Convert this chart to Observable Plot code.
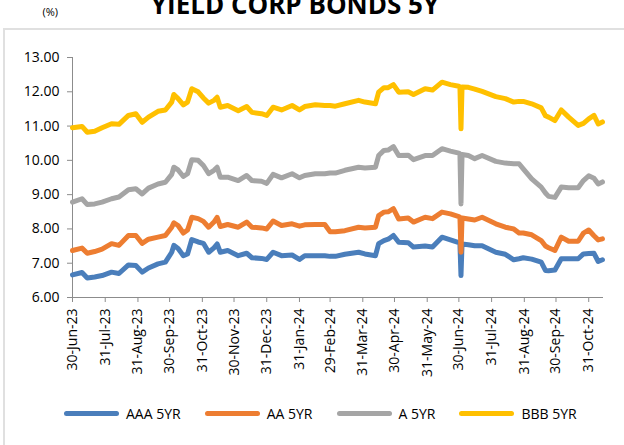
<!DOCTYPE html>
<html><head><meta charset="utf-8">
<script src="https://cdn.jsdelivr.net/npm/d3@7"></script>
<script src="https://cdn.jsdelivr.net/npm/@observablehq/plot@0.6"></script>
<style>
html,body{margin:0;padding:0;background:#fff;}
body{width:624px;height:445px;overflow:hidden;position:relative;font-family:"Open Sans",sans-serif;color:#000;}
#frame{position:absolute;left:3px;top:28px;width:660px;height:460px;border:2px solid #e0e0e0;box-sizing:border-box;}
#title{position:absolute;left:295px;top:-9px;transform:translateX(-50%);font-size:26px;line-height:26px;font-weight:700;white-space:nowrap;}
#unit{position:absolute;left:42.5px;top:5.7px;font-size:11px;line-height:11px;}
#chart{position:absolute;left:0;top:0;}
#legend{position:absolute;left:64px;top:403px;display:flex;align-items:center;height:20px;font-size:14px;}
.item{display:flex;align-items:center;margin-right:24px;}
.sw{width:55px;height:5px;border-radius:3px;margin-right:7px;}
</style></head><body>
<div id="frame"></div>
<div id="title">YIELD CORP BONDS 5Y</div>
<div id="unit">(%)</div>
<div id="chart"></div>
<div id="legend"></div>
<script>
const seriesNames = ["AAA 5YR", "AA 5YR", "A 5YR", "BBB 5YR"];
const seriesColors = ["#4a7ebb", "#ed7d31", "#a5a5a5", "#ffc000"];
const dates = ["2023-06-30","2023-07-09","2023-07-14","2023-07-21","2023-07-28","2023-08-06","2023-08-13","2023-08-22","2023-08-29","2023-09-04",
"2023-09-10","2023-09-19","2023-09-26","2023-10-02","2023-10-04","2023-10-08","2023-10-13","2023-10-17","2023-10-21","2023-10-27",
"2023-11-01","2023-11-06","2023-11-11","2023-11-14","2023-11-17","2023-11-24","2023-12-04","2023-12-12","2023-12-17","2023-12-26",
"2023-12-31","2024-01-06","2024-01-14","2024-01-24","2024-01-31","2024-02-05","2024-02-15","2024-02-24","2024-02-29","2024-03-05",
"2024-03-14","2024-03-27","2024-04-02","2024-04-12","2024-04-15","2024-04-20","2024-04-24","2024-04-29","2024-05-04","2024-05-13",
"2024-05-18","2024-05-29","2024-06-05","2024-06-14","2024-06-22","2024-06-30","2024-07-01","2024-07-02","2024-07-03","2024-07-09",
"2024-07-15","2024-07-22","2024-08-04","2024-08-13","2024-08-21","2024-08-26","2024-08-30","2024-09-07","2024-09-16","2024-09-20",
"2024-09-23","2024-09-29","2024-10-05","2024-10-12","2024-10-21","2024-10-26","2024-10-31","2024-11-05","2024-11-09","2024-11-13"];
const aaa = [6.66,6.73,6.57,6.60,6.64,6.74,6.70,6.95,6.93,6.74,
6.86,6.98,7.03,7.32,7.52,7.43,7.22,7.27,7.69,7.62,
7.58,7.32,7.45,7.56,7.32,7.37,7.22,7.29,7.16,7.14,
7.11,7.32,7.22,7.24,7.11,7.22,7.22,7.22,7.20,7.20,
7.26,7.32,7.27,7.22,7.57,7.66,7.70,7.81,7.61,7.60,
7.47,7.50,7.47,7.76,7.68,7.60,7.57,6.64,7.56,7.54,
7.51,7.51,7.32,7.26,7.10,7.13,7.16,7.12,7.03,6.79,
6.78,6.80,7.13,7.13,7.13,7.27,7.28,7.29,7.05,7.10];
const aa = [7.37,7.44,7.29,7.34,7.41,7.57,7.52,7.81,7.81,7.58,
7.70,7.76,7.81,8.05,8.18,8.10,7.88,7.97,8.34,8.30,
8.22,8.05,8.20,8.34,8.07,8.13,8.05,8.20,8.05,8.03,
8.00,8.23,8.10,8.15,8.08,8.12,8.13,8.13,7.92,7.92,
7.95,8.05,8.03,8.05,8.39,8.49,8.50,8.59,8.29,8.32,
8.20,8.34,8.30,8.49,8.44,8.36,8.34,7.32,8.32,8.29,
8.26,8.34,8.15,8.05,8.00,7.88,7.88,7.83,7.66,7.50,
7.45,7.37,7.76,7.64,7.64,7.88,7.97,7.80,7.68,7.71];
const a = [8.78,8.88,8.71,8.73,8.78,8.88,8.93,9.14,9.17,9.02,
9.19,9.31,9.36,9.59,9.80,9.72,9.53,9.61,10.02,10.00,
9.85,9.61,9.71,9.80,9.51,9.51,9.41,9.56,9.41,9.39,
9.33,9.59,9.49,9.61,9.49,9.56,9.61,9.61,9.63,9.63,
9.71,9.80,9.78,9.80,10.14,10.29,10.30,10.40,10.14,10.15,
10.02,10.14,10.14,10.34,10.27,10.21,10.19,8.73,10.17,10.14,
10.05,10.14,9.97,9.92,9.90,9.90,9.75,9.46,9.22,9.05,
8.95,8.92,9.22,9.20,9.20,9.41,9.55,9.48,9.31,9.37];
const bbb = [10.95,10.99,10.82,10.85,10.95,11.07,11.05,11.31,11.36,11.11,
11.26,11.43,11.47,11.70,11.92,11.80,11.62,11.70,12.09,12.00,
11.82,11.67,11.75,11.84,11.55,11.60,11.45,11.57,11.40,11.36,
11.31,11.55,11.47,11.60,11.47,11.57,11.62,11.60,11.60,11.58,
11.65,11.75,11.70,11.65,11.99,12.12,12.12,12.21,11.99,12.00,
11.92,12.09,12.05,12.28,12.21,12.16,12.14,10.92,12.14,12.13,
12.08,12.01,11.86,11.80,11.70,11.72,11.72,11.65,11.53,11.30,
11.26,11.16,11.47,11.26,11.02,11.08,11.21,11.31,11.06,11.12];
const xTickDates = ["2023-06-30","2023-07-31","2023-08-31","2023-09-30","2023-10-31","2023-11-30","2023-12-31","2024-01-31","2024-02-29","2024-03-31","2024-04-30","2024-05-31","2024-06-30","2024-07-31","2024-08-31","2024-09-30","2024-10-31"];
const yTicks = [6, 7, 8, 9, 10, 11, 12, 13];
const xDomain = ["2023-06-30", "2024-11-14"];

const valuesBySeries = [aaa, aa, a, bbb];
const rows = [];
seriesNames.forEach((name, si) => {
  dates.forEach((d, i) => rows.push({series: name, date: new Date(d), value: valuesBySeries[si][i]}));
});

const axisColor = "#8c8c8c";
const chart = Plot.plot({
  width: 624, height: 380,
  marginTop: 57, marginLeft: 72, marginRight: 21, marginBottom: 83,
  style: {fontFamily: '"Open Sans", sans-serif', fontSize: "14px", color: "#000", background: "transparent", overflow: "visible"},
  x: {type: "utc", domain: xDomain.map(d => new Date(d))},
  y: {domain: [yTicks[0], yTicks[yTicks.length - 1]]},
  color: {domain: seriesNames, range: seriesColors},
  marks: [
    Plot.ruleY([yTicks[0]], {stroke: axisColor, strokeWidth: 1}),
    Plot.ruleX([new Date(xDomain[0])], {stroke: axisColor, strokeWidth: 1}),
    Plot.axisY({ticks: yTicks, tickFormat: d => d.toFixed(2), tickSize: 5, tickPadding: 8, stroke: axisColor, fill: "#000", label: null, fontSize: 14}),
    Plot.axisX({ticks: xTickDates.map(d => new Date(d)), tickFormat: d3.utcFormat("%d-%b-%y"), tickRotate: -90, tickSize: 5, tickPadding: 6, stroke: axisColor, fill: "#000", label: null, fontSize: 14}),
    Plot.lineY(rows, {x: "date", y: "value", z: "series", stroke: "series", strokeWidth: 5, strokeLinejoin: "round", strokeLinecap: "round"})
  ]
});
document.getElementById("chart").appendChild(chart);

const legend = document.getElementById("legend");
seriesNames.forEach((name, i) => {
  const item = document.createElement("div");
  item.className = "item";
  const sw = document.createElement("div");
  sw.className = "sw";
  sw.style.background = seriesColors[i];
  const lab = document.createElement("span");
  lab.textContent = name;
  item.appendChild(sw); item.appendChild(lab);
  legend.appendChild(item);
});
</script>
</body></html>
